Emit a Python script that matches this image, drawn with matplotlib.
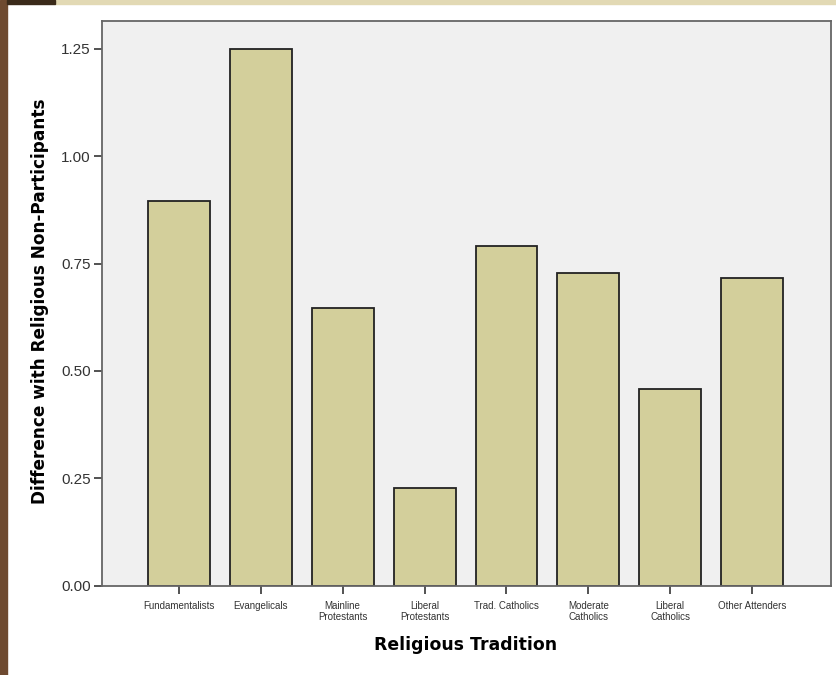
import numpy as np
import matplotlib
matplotlib.use('Agg')
import matplotlib.pyplot as plt
from matplotlib.patches import Rectangle

# Datos
tradiciones = ['Fundamentalists', 'Evangelicals', 'Mainline\nProtestants',
               'Liberal\nProtestants', 'Trad. Catholics', 'Moderate\nCatholics',
               'Liberal\nCatholics', 'Other Attenders']
diferencia = [0.895, 1.25, 0.646, 0.227, 0.792, 0.727, 0.457, 0.716]
yticks = [0.00, 0.25, 0.50, 0.75, 1.00, 1.25]

plt.rcParams['font.family'] = ['Liberation Sans', 'DejaVu Sans']

W, H = 837, 675
fig = plt.figure(figsize=(W / 100, H / 100), dpi=100)
fig.patch.set_facecolor('white')

# tiras de fondo (textura de la diapositiva)
fig.patches.append(Rectangle((0, 0), 7 / W, 1, transform=fig.transFigure,
                             color='#6e4a30', zorder=-1))
fig.patches.append(Rectangle((55 / W, 1 - 4 / H), 1, 4 / H, transform=fig.transFigure,
                             color='#e2d9b4', zorder=-1))
fig.patches.append(Rectangle((7 / W, 1 - 4 / H), 48 / W, 4 / H, transform=fig.transFigure,
                             color='#3a2a1a', zorder=-1))

ax_w = 831 - 102
ax_h = 585.7 - 20.5
ax = fig.add_axes([102 / W, 1 - 585.7 / H, ax_w / W, ax_h / H])
ax.set_facecolor('#f0f0f0')

x = np.arange(len(tradiciones))
ax.bar(x, diferencia, width=0.756, color='#d3cf9b', edgecolor='#222222',
       linewidth=1.3, zorder=2)

ax.set_xlim(-0.939, 7.963)
ax.set_ylim(0, 1.316)
ax.set_yticks(yticks)
ax.set_yticklabels(['%.2f' % v for v in yticks], fontsize=11, color='#333333')
ax.set_xticks(x)
ax.set_xticklabels(tradiciones, fontsize=7, color='#333333', linespacing=1.15)
ax.tick_params(axis='y', length=6, width=1.3, color='#444444', pad=2)
ax.tick_params(axis='x', length=6, width=1.3, color='#444444', pad=5)

for s in ax.spines.values():
    s.set_color('#666666')
    s.set_linewidth(1.3)

ax.set_ylabel('Difference with Religious Non-Participants', fontsize=12.2,
              fontweight='bold', family='DejaVu Sans')
ax.set_xlabel('Religious Tradition', fontsize=12.4, fontweight='bold',
              family='DejaVu Sans')
ax.yaxis.set_label_coords(-(102 - 40) / ax_w, (585.7 - 301.5) / ax_h)
ax.yaxis.label.set_va('center')
ax.xaxis.set_label_coords((466 - 102) / ax_w, -(645 - 585.7) / ax_h)
ax.xaxis.label.set_va('center')

fig.savefig('out.png', dpi=100)
